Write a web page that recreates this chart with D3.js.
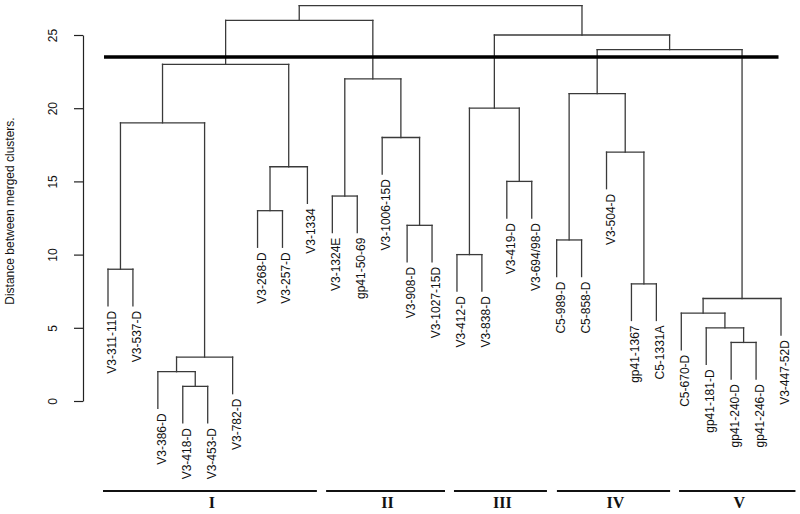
<!DOCTYPE html>
<html>
<head>
<meta charset="utf-8">
<script src="https://cdn.jsdelivr.net/npm/d3@7"></script>
<style>
  html, body { margin: 0; padding: 0; background: #fff; }
  svg { display: block; }
</style>
</head>
<body>
<svg id="chart" width="800" height="514"></svg>
<script>
// ---- Data ----
const leafLabels = [
  "V3-311-11D", "V3-537-D", "V3-386-D", "V3-418-D", "V3-453-D", "V3-782-D",
  "V3-268-D", "V3-257-D", "V3-1334", "V3-1324E", "gp41-50-69", "V3-1006-15D",
  "V3-908-D", "V3-1027-15D", "V3-412-D", "V3-838-D", "V3-419-D", "V3-694/98-D",
  "C5-989-D", "C5-858-D", "V3-504-D", "gp41-1367", "C5-1331A", "C5-670-D",
  "gp41-181-D", "gp41-240-D", "gp41-246-D", "V3-447-52D"
];
// hclust-style merge matrix: negative = leaf (1-based), positive = earlier merge (1-based)
const mergeLeft  = [-4, -3,  2, -26, -25, -24,  6, -22, -1, -15, -19, -13, -7, -10, -17, 13, -21, -12,  9, 10, 11, 14, 19, 21, 20, 23, 26];
const mergeRight = [-5,  1, -6, -27,   4,   5, -28, -23, -2, -16, -20, -14, -8, -11, -18, -9,   8,  12,  3, 15, 17, 18, 16,  7, 24, 22, 25];
const mergeHeight = [1, 2, 3, 4, 5, 6, 7, 8, 9, 10, 11, 12, 13, 14, 15, 16, 17, 18, 19, 20, 21, 22, 23, 24, 25, 26, 27];
const hang = 2.5;
const cutHeight = 23.5;
const cutExtent = [0.84, 27.9];           // in leaf-index units
const yTicks = [0, 5, 10, 15, 20, 25];
const groupNames = ["I", "II", "III", "IV", "V"];
const groupStart = [0.8, 9.75, 14.88, 19.01, 23.91];   // leaf-index units
const groupEnd   = [9.38, 14.52, 18.61, 23.55, 28.58];
const yTitle = "Distance between merged clusters.";

// ---- Scales ----
const svg = d3.select("#chart");
const x = d3.scaleLinear().domain([1, leafLabels.length]).range([108, 781]);
const y = d3.scaleLinear().domain([0, 25]).range([401, 35]);

const treeColor = "#3a3a3a";
const g = svg.append("g");

// compute node positions (hclust convention: node x = mean of children x)
const nodeX = [], nodeH = [];
function childX(c) { return c < 0 ? x(-c) : nodeX[c - 1]; }
for (let i = 0; i < mergeHeight.length; i++) {
  nodeX[i] = (childX(mergeLeft[i]) + childX(mergeRight[i])) / 2;
  nodeH[i] = mergeHeight[i];
}

const segs = [];
for (let i = 0; i < mergeHeight.length; i++) {
  const h = mergeHeight[i];
  const a = mergeLeft[i], b = mergeRight[i];
  const xa = childX(a), xb = childX(b);
  const ha = a < 0 ? h - hang : nodeH[a - 1];
  const hb = b < 0 ? h - hang : nodeH[b - 1];
  segs.push([xa, y(ha), xa, y(h)]);
  segs.push([xa, y(h), xb, y(h)]);
  segs.push([xb, y(h), xb, y(hb)]);
}
g.selectAll("line.seg").data(segs).join("line")
  .attr("class", "seg")
  .attr("x1", d => d[0]).attr("y1", d => d[1])
  .attr("x2", d => d[2]).attr("y2", d => d[3])
  .attr("stroke", treeColor).attr("stroke-width", 1.3)
  .attr("stroke-linecap", "square");

// leaf labels
const leafParentH = {};
for (let i = 0; i < mergeHeight.length; i++) {
  if (mergeLeft[i] < 0) leafParentH[-mergeLeft[i]] = mergeHeight[i];
  if (mergeRight[i] < 0) leafParentH[-mergeRight[i]] = mergeHeight[i];
}
g.selectAll("text.leaf").data(leafLabels).join("text")
  .attr("class", "leaf")
  .attr("transform", (d, i) => `translate(${x(i + 1) + 8},${y(leafParentH[i + 1] - hang) + 5}) rotate(-90)`)
  .attr("text-anchor", "end")
  .attr("font-family", "Liberation Sans, Arial, sans-serif")
  .attr("font-size", 12)
  .attr("fill", "#111")
  .text(d => d);

// thick cut line
svg.append("line")
  .attr("x1", x(cutExtent[0])).attr("x2", x(cutExtent[1]))
  .attr("y1", y(cutHeight)).attr("y2", y(cutHeight))
  .attr("stroke", "#000").attr("stroke-width", 3.6);

// y axis
const axis = d3.axisLeft(y).tickValues(yTicks).tickSize(9).tickSizeOuter(0).tickFormat(d3.format("d"));
const ax = svg.append("g").attr("transform", "translate(83,0)").call(axis);
ax.select(".domain").attr("stroke", "#222").attr("stroke-width", 1.2);
ax.selectAll(".tick line").attr("stroke", "#222").attr("stroke-width", 1.2);
ax.selectAll(".tick text")
  .attr("font-family", "Liberation Sans, Arial, sans-serif")
  .attr("font-size", 12)
  .attr("fill", "#111")
  .attr("x", null).attr("dy", null)
  .attr("text-anchor", "middle")
  .attr("transform", "translate(-26,0) rotate(-90)");

svg.append("text")
  .attr("transform", `translate(14,211) rotate(-90)`)
  .attr("text-anchor", "middle")
  .attr("font-family", "Liberation Sans, Arial, sans-serif")
  .attr("font-size", 12)
  .attr("fill", "#111")
  .text(yTitle);

// groups
const grp = svg.append("g");
grp.selectAll("line.grp").data(groupNames).join("line")
  .attr("class", "grp")
  .attr("x1", (d, i) => x(groupStart[i])).attr("x2", (d, i) => x(groupEnd[i]))
  .attr("y1", 491).attr("y2", 491)
  .attr("stroke", "#111").attr("stroke-width", 1.8);
grp.selectAll("text.grp").data(groupNames).join("text")
  .attr("class", "grp")
  .attr("x", (d, i) => (x(groupStart[i]) + x(groupEnd[i])) / 2 + 2)
  .attr("y", 508)
  .attr("text-anchor", "middle")
  .attr("font-family", "Liberation Serif, Times New Roman, serif")
  .attr("font-weight", "bold")
  .attr("font-size", 16)
  .attr("fill", "#111")
  .text(d => d);
</script>
</body>
</html>
